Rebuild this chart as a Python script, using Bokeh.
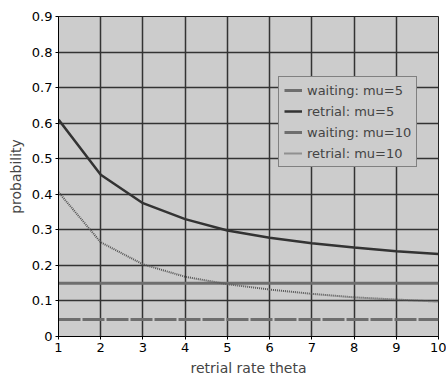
from bokeh.plotting import figure
from bokeh.models import Legend, LegendItem, FixedTicker, Range1d
from bokeh.embed import file_html
from bokeh.resources import INLINE

theta = [1, 2, 3, 4, 5, 6, 7, 8, 9, 10]
waiting_mu5 = [0.15] * 10
retrial_mu5 = [0.61, 0.455, 0.375, 0.33, 0.298, 0.278, 0.262, 0.25, 0.24, 0.232]
waiting_mu10 = [0.048] * 10
retrial_mu10 = [0.406, 0.265, 0.203, 0.168, 0.147, 0.132, 0.12, 0.11, 0.104, 0.098]
x_ticks = [1, 2, 3, 4, 5, 6, 7, 8, 9, 10]
y_ticks = [0, 0.1, 0.2, 0.3, 0.4, 0.5, 0.6, 0.7, 0.8, 0.9]

FONT = "DejaVu Sans"

p = figure(width=446, height=380, output_backend="svg", toolbar_location=None,
           x_range=Range1d(1, 10), y_range=Range1d(0, 0.9),
           min_border_left=58, min_border_right=8, min_border_top=16, min_border_bottom=44)
p.background_fill_color = "#cccccc"
p.border_fill_color = "white"
p.outline_line_color = "#222222"
p.outline_line_width = 1

p.xaxis.ticker = FixedTicker(ticks=x_ticks)
p.yaxis.ticker = FixedTicker(ticks=y_ticks)
p.xaxis.axis_label = "retrial rate theta"
p.yaxis.axis_label = "probability"
for ax in (p.xaxis[0], p.yaxis[0]):
    ax.axis_label_text_font = FONT
    ax.axis_label_text_font_style = "normal"
    ax.axis_label_text_font_size = "14px"
    ax.major_label_text_font = FONT
    ax.major_label_text_font_size = "13px"
    ax.major_label_text_color = "black"
    ax.axis_line_color = "black"
    ax.major_tick_line_color = "black"
    ax.major_tick_in = 0
    ax.major_tick_out = 3
    ax.minor_tick_line_color = None
    ax.major_label_standoff = 3
    ax.axis_label_standoff = 5
p.yaxis[0].major_label_orientation = "horizontal"

p.xgrid.grid_line_color = "#333333"
p.ygrid.grid_line_color = "#333333"
p.xgrid.grid_line_width = 1.5
p.ygrid.grid_line_width = 1.5

r1 = p.line(theta, waiting_mu5, line_color="#6e6e6e", line_width=3)
r2 = p.line(theta, retrial_mu5, line_color="#333333", line_width=2.5)
r3 = p.line(theta, waiting_mu10, line_color="#6e6e6e", line_width=3, line_dash="22 2")
r4 = p.line(theta, retrial_mu10, line_color="#555555", line_width=2, line_dash="1 1")

legend = Legend(items=[
    LegendItem(label="waiting: mu=5", renderers=[r1]),
    LegendItem(label="retrial: mu=5", renderers=[r2]),
    LegendItem(label="waiting: mu=10", renderers=[r3]),
    LegendItem(label="retrial: mu=10", renderers=[r4]),
], location=(220, 169))
legend.background_fill_color = "#cccccc"
legend.background_fill_alpha = 1
legend.border_line_color = "#333333"
legend.border_line_width = 1
legend.label_text_font = FONT
legend.label_text_font_size = "13px"
legend.label_height = 16
legend.glyph_height = 16
legend.glyph_width = 18
legend.spacing = 5
legend.padding = 5
legend.margin = 0
p.add_layout(legend)

open("out.html", "w").write(file_html(p, INLINE))
